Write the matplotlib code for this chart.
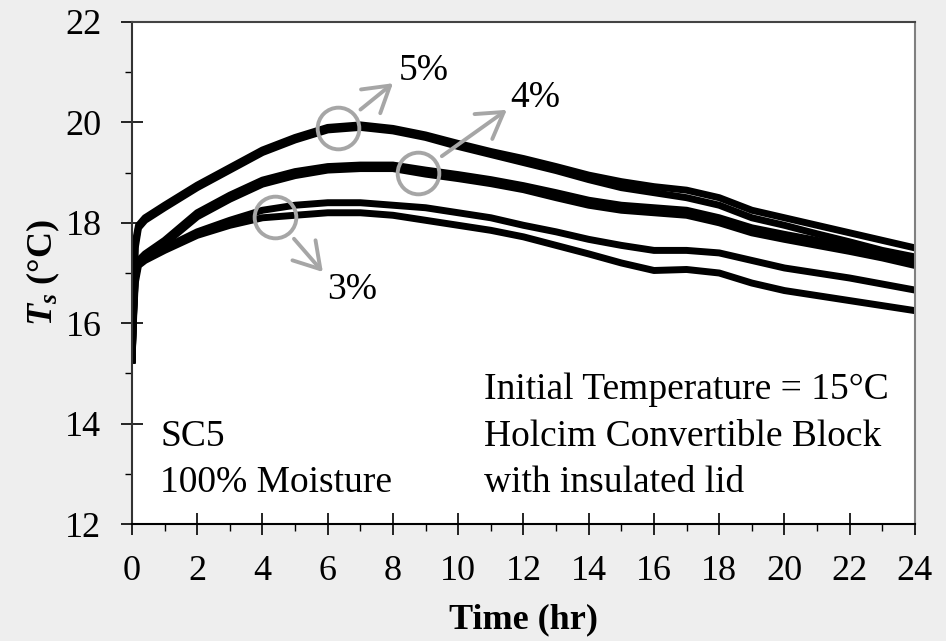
import matplotlib
matplotlib.use('Agg')
import matplotlib.pyplot as plt
from matplotlib.ticker import MultipleLocator

plt.rcParams['font.family'] = ['Liberation Serif', 'DejaVu Serif']
plt.rcParams['mathtext.fontset'] = 'custom'
plt.rcParams['mathtext.it'] = 'Liberation Serif:italic:bold'
plt.rcParams['mathtext.rm'] = 'Liberation Serif:bold'

# surface temperature readings (hr, degC)
time_hr = [0, 0.05, 0.1, 0.2, 0.4, 1, 2, 3, 4, 5, 6, 7, 8, 9, 10, 11, 12,
           13, 14, 15, 16, 17, 18, 19, 20, 21, 22, 23, 24]
ts_5a = [15.2, 16.6, 17.6, 17.95, 18.1, 18.35, 18.75, 19.1, 19.45, 19.7, 19.9,
         19.95, 19.88, 19.75, 19.58, 19.42, 19.28, 19.12, 18.95, 18.82, 18.72,
         18.65, 18.5, 18.25, 18.1, 17.95, 17.8, 17.65, 17.5]
ts_5b = [15.2, 16.5, 17.5, 17.9, 18.05, 18.3, 18.7, 19.05, 19.4, 19.65, 19.85,
         19.9, 19.83, 19.7, 19.52, 19.36, 19.2, 19.04, 18.86, 18.7, 18.6,
         18.5, 18.35, 18.1, 17.95, 17.78, 17.62, 17.45, 17.32]
ts_4a = [15.2, 16.3, 17.0, 17.25, 17.38, 17.65, 18.2, 18.55, 18.85, 19.02, 19.12,
         19.15, 19.15, 19.05, 18.96, 18.86, 18.74, 18.6, 18.45, 18.35, 18.3,
         18.25, 18.1, 17.9, 17.77, 17.65, 17.52, 17.4, 17.27]
ts_4b = [15.2, 16.2, 16.9, 17.2, 17.33, 17.58, 18.12, 18.47, 18.77, 18.94, 19.05,
         19.08, 19.08, 18.97, 18.88, 18.78, 18.66, 18.5, 18.35, 18.25, 18.2,
         18.15, 18.0, 17.8, 17.67, 17.55, 17.43, 17.3, 17.15]
ts_3a = [15.2, 16.2, 16.9, 17.2, 17.3, 17.5, 17.82, 18.05, 18.25, 18.35, 18.4,
         18.4, 18.35, 18.3, 18.2, 18.1, 17.95, 17.82, 17.67, 17.55, 17.45,
         17.45, 17.4, 17.25, 17.1, 17.0, 16.9, 16.78, 16.66]
ts_3b = [15.2, 16.1, 16.8, 17.15, 17.25, 17.45, 17.75, 17.95, 18.1, 18.15, 18.2,
         18.2, 18.15, 18.05, 17.95, 17.85, 17.72, 17.55, 17.38, 17.2, 17.05,
         17.07, 17.0, 16.8, 16.65, 16.55, 16.45, 16.35, 16.25]

# circled series labels: (label, circle centre, arrow tip, text centre)
labels = ['5%', '4%', '3%']
circle_xy = [(6.31, 19.89), (8.77, 18.99), (4.38, 18.12)]
arrow_tip = [(8.0, 20.78), (11.49, 20.25), (5.85, 17.02)]
text_xy = [(8.95, 21.02), (12.35, 20.5), (6.74, 16.66)]

grey = '#a6a6a6'
fs = 26
fs_note = 27

fig = plt.figure(figsize=(9.46, 6.41), dpi=100, facecolor='#eeeeee')
ax = fig.add_axes([0.1395, 0.1825, 0.9672 - 0.1395, 0.9657 - 0.1825])
ax.set_facecolor('white')

for ts in [ts_5a, ts_5b, ts_4a, ts_4b, ts_3a, ts_3b]:
    ax.plot(time_hr, ts, color='black', lw=5, solid_capstyle='butt', zorder=2)

for lab, c, tip, txt in zip(labels, circle_xy, arrow_tip, text_xy):
    ax.plot(*c, marker='o', ms=30, mfc='none', mec=grey, mew=2.8, zorder=3)
    ax.annotate('', xy=tip, xytext=c,
                arrowprops=dict(arrowstyle='->,head_length=0.9,head_width=0.55',
                                color=grey, lw=2.8, mutation_scale=20,
                                shrinkA=21, shrinkB=0),
                zorder=3)
    ax.text(*txt, lab, fontsize=fs_note, ha='center', va='center', zorder=4)

ax.text(0.86, 13.73, 'SC5', fontsize=fs_note, ha='left', va='center')
ax.text(0.86, 12.82, '100% Moisture', fontsize=fs_note, ha='left', va='center')
ax.text(10.8, 14.67, 'Initial Temperature = 15°C', fontsize=fs_note, ha='left', va='center')
ax.text(10.8, 13.73, 'Holcim Convertible Block', fontsize=fs_note, ha='left', va='center')
ax.text(10.8, 12.82, 'with insulated lid', fontsize=fs_note, ha='left', va='center')

ax.set_xlim(0, 24)
ax.set_ylim(12, 22)
ax.xaxis.set_major_locator(MultipleLocator(2))
ax.xaxis.set_minor_locator(MultipleLocator(1))
ax.yaxis.set_major_locator(MultipleLocator(2))
ax.yaxis.set_minor_locator(MultipleLocator(1))
ax.tick_params(which='major', direction='inout', length=16, width=1.2,
               labelsize=fs)
ax.tick_params(which='minor', direction='out', length=5, width=1.0)
ax.tick_params(axis='x', which='major', pad=14)
ax.tick_params(axis='y', which='major', pad=14)

ax.spines['left'].set_color('#333333')
ax.spines['bottom'].set_color('black')
ax.spines['top'].set_color('#444444')
ax.spines['right'].set_color('#808080')
for s in ax.spines.values():
    s.set_linewidth(1.5)

ax.set_xlabel('Time (hr)', fontsize=fs, fontweight='bold', labelpad=11)
ax.set_ylabel(r'$T_s$ (°C)', fontsize=fs, fontweight='bold', labelpad=2)

fig.savefig('out.png', dpi=100, facecolor=fig.get_facecolor())
